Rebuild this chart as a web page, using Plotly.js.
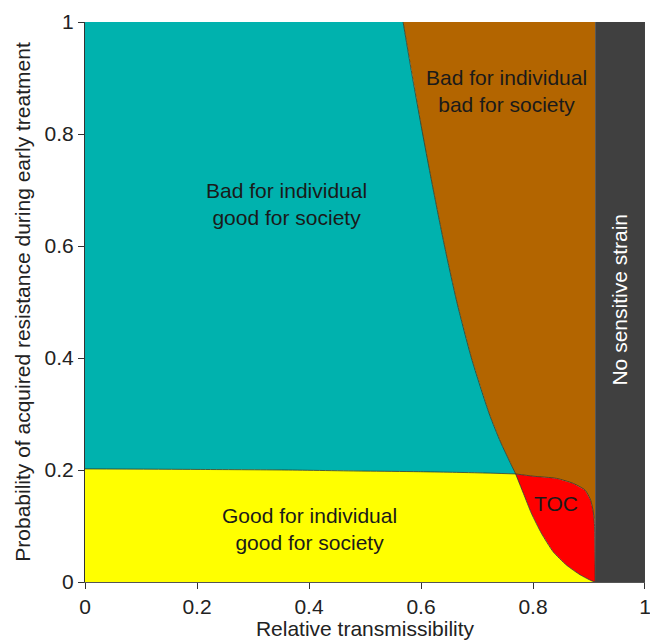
<!DOCTYPE html>
<html>
<head>
<meta charset="utf-8">
<script src="https://cdn.plot.ly/plotly-3.0.1.min.js"></script>
<style>html,body{margin:0;padding:0;background:#fff;}</style>
</head>
<body>
<div id="chart" style="width:650px;height:640px;"></div>
<script>
// Boundary between "bad/good" (teal) and "bad/bad" (brown), from top down to junction
const tealBrownX = [0.568, 0.585, 0.603, 0.622, 0.642, 0.664, 0.690, 0.722, 0.742, 0.769];
const tealBrownY = [1.000, 0.900, 0.800, 0.700, 0.600, 0.500, 0.400, 0.300, 0.250, 0.193];
// Boundary between teal (above) and yellow (below), from x=0 to junction
const yellowTealX = [0.000, 0.200, 0.357, 0.500, 0.595, 0.700, 0.769];
const yellowTealY = [0.202, 0.201, 0.200, 0.198, 0.197, 0.195, 0.193];
// Upper boundary of TOC region (red vs brown), from junction to the no-sensitive-strain line
const tocTopX = [0.769, 0.800, 0.842, 0.872, 0.893, 0.903, 0.908, 0.910, 0.911];
const tocTopY = [0.193, 0.189, 0.185, 0.176, 0.164, 0.146, 0.123, 0.099, 0.000];
// Lower boundary of TOC region (red vs yellow), from junction down to the x-axis
const tocBottomX = [0.769, 0.783, 0.797, 0.815, 0.836, 0.860, 0.884, 0.905, 0.911];
const tocBottomY = [0.193, 0.158, 0.123, 0.087, 0.054, 0.030, 0.013, 0.002, 0.000];
// Threshold beyond which there is no sensitive strain
const noSensitiveX = 0.911;
const tickVals = [0, 0.2, 0.4, 0.6, 0.8, 1];
const tickText = ['0', '0.2', '0.4', '0.6', '0.8', '1'];
const regionLabels = ['Bad for individual<br>good for society', 'Bad for individual<br>bad for society', 'Good for individual<br>good for society', 'TOC', 'No sensitive strain'];

const rev = a => a.slice().reverse();
const colors = {teal: '#00B2AE', brown: '#B36500', yellow: '#FFFF00', red: '#FF0000', gray: '#404040'};
const edge = '#2b3a2b';

function poly(x, y, color) {
  return {x: x, y: y, type: 'scatter', mode: 'lines', fill: 'toself', fillcolor: color,
          line: {width: 0, color: color}, hoverinfo: 'skip', showlegend: false};
}
function boundary(x, y) {
  return {x: x, y: y, type: 'scatter', mode: 'lines', line: {width: 0.8, color: edge, shape: 'spline', smoothing: 0.6},
          hoverinfo: 'skip', showlegend: false};
}

const nTop = tocTopX.length;
const teal = poly([0].concat(tealBrownX, rev(yellowTealX)), [1].concat(tealBrownY, rev(yellowTealY)), colors.teal);
const brown = poly(tealBrownX.concat(tocTopX.slice(1, nTop - 1), [noSensitiveX, noSensitiveX]),
                   tealBrownY.concat(tocTopY.slice(1, nTop - 1), [tocTopY[nTop - 2], 1]), colors.brown);
const yellow = poly([0].concat(rev(tocBottomX), rev(yellowTealX)), [0].concat(rev(tocBottomY), rev(yellowTealY)), colors.yellow);
const red = poly(tocTopX.concat(rev(tocBottomX)), tocTopY.concat(rev(tocBottomY)), colors.red);
const gray = poly([noSensitiveX, 1, 1, noSensitiveX], [0, 0, 1, 1], colors.gray);

const data = [teal, brown, yellow, red, gray,
  boundary(tealBrownX, tealBrownY), boundary(yellowTealX, yellowTealY),
  boundary(tocTopX, tocTopY), boundary(tocBottomX, tocBottomY)];

const font = 'Liberation Sans, Arial, Helvetica, sans-serif';
const fs = 21;
const layout = {
  width: 650, height: 640,
  margin: {l: 85, r: 5, t: 22, b: 58},
  paper_bgcolor: '#fff', plot_bgcolor: '#fff',
  font: {family: font, size: fs, color: '#222'},
  xaxis: {range: [0, 1.00001], tickvals: tickVals, ticktext: tickText, ticks: 'outside', ticklen: 6,
          tickcolor: '#333', showline: true, linecolor: '#555', linewidth: 1, showgrid: false, zeroline: false,
          tickfont: {size: fs, color: '#222'}, automargin: false, ticklabeloverflow: 'allow',
          title: {text: 'Relative transmissibility', font: {size: fs, color: '#222'}, standoff: 6}},
  yaxis: {range: [0, 1.00001], tickvals: tickVals, ticktext: tickText, ticks: 'outside', ticklen: 6,
          tickcolor: '#333', showline: true, linecolor: '#333', linewidth: 1, showgrid: false, zeroline: false,
          tickfont: {size: fs, color: '#222'}, automargin: false, ticklabeloverflow: 'allow',
          title: {text: 'Probability of acquired resistance during early treatment', font: {size: fs, color: '#222'}, standoff: 8}},
  annotations: [
    {x: 0.359, y: 0.675, text: regionLabels[0], showarrow: false, font: {size: fs, color: '#1a1a1a'}},
    {x: 0.752, y: 0.877, text: regionLabels[1], showarrow: false, font: {size: fs, color: '#1a1a1a'}},
    {x: 0.400, y: 0.095, text: regionLabels[2], showarrow: false, font: {size: fs, color: '#1a1a1a'}},
    {x: 0.841, y: 0.141, text: regionLabels[3], showarrow: false, font: {size: fs, color: '#1a1a1a'}},
    {x: 0.955, y: 0.504, text: regionLabels[4], showarrow: false, textangle: -90, font: {size: fs, color: '#ffffff'}}
  ]
};

Plotly.newPlot('chart', data, layout, {displayModeBar: false, staticPlot: true});
</script>
</body>
</html>
